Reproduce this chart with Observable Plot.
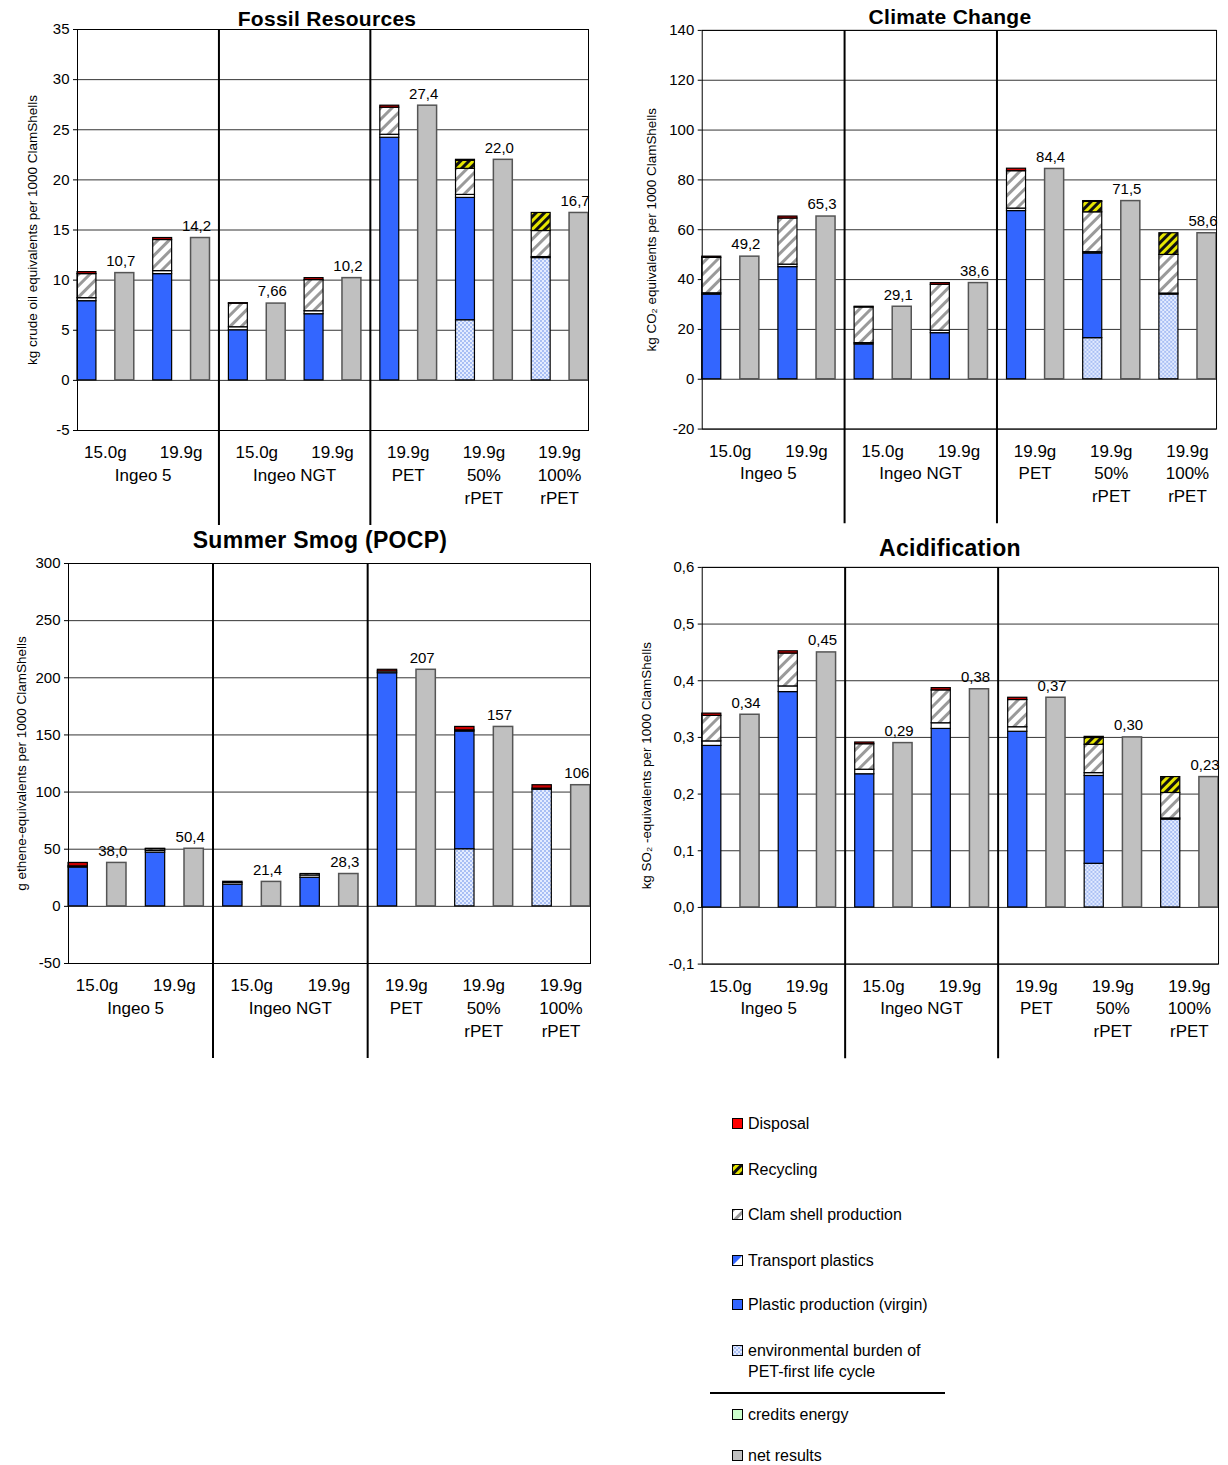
<!DOCTYPE html>
<html><head><meta charset="utf-8">
<script src="https://cdn.jsdelivr.net/npm/d3@7"></script>
<script src="https://cdn.jsdelivr.net/npm/@observablehq/plot@0.6"></script>
<style>
body{margin:0;background:#fff;font-family:"Liberation Sans",Arial,sans-serif;}
#wrap{position:relative;width:1228px;height:1465px;}
.panel{position:absolute;}
.title{position:absolute;font-weight:bold;font-size:21px;transform:translateX(-50%);white-space:nowrap;letter-spacing:0.3px}
.leg{position:absolute;left:732px;font-size:16px;line-height:21px;}
.leg svg{position:absolute;left:0;top:5px}
.leg span{position:absolute;left:16px;top:0;white-space:nowrap}
</style></head><body>
<svg width="0" height="0" style="position:absolute">
<defs>
<pattern id="p-burden" width="4" height="4" patternUnits="userSpaceOnUse"><rect width="4" height="4" fill="#e4ecff"/><circle cx="1" cy="1" r="0.8" fill="#5f86e6"/><circle cx="3" cy="3" r="0.8" fill="#5f86e6"/></pattern>
<pattern id="p-clam" width="8" height="8" patternUnits="userSpaceOnUse" patternTransform="rotate(45)"><rect width="8" height="8" fill="#fff"/><rect width="3" height="8" fill="#9a9a9a"/></pattern>
<pattern id="p-recyc" width="6" height="6" patternUnits="userSpaceOnUse" patternTransform="rotate(45)"><rect width="6" height="6" fill="#e6e600"/><rect width="3" height="6" fill="#111"/></pattern>
</defs></svg>
<div id="wrap"></div>
<script>
const segNames = ["burden","plastic","transport","clam","recycling","disposal"];
const segFill = {burden:"url(#p-burden)",plastic:"#3366ff",transport:"#ffffff",clam:"url(#p-clam)",recycling:"url(#p-recyc)",disposal:"#cc0000"};
const productLabels = ["15.0g","19.9g","15.0g","19.9g","19.9g\nPET","19.9g\n50%\nrPET","19.9g\n100%\nrPET"];
const groupLabels = [{name:"Ingeo 5",a:0,b:1},{name:"Ingeo NGT",a:2,b:3}];

// per panel: segment values per product [burden, plastic, transport, clam, recycling, disposal]
const fossilSegs = [[0,7.9,0.3,2.4,0,0.2],[0,10.6,0.3,3.1,0,0.2],[0,5.0,0.3,2.35,0,0.05],[0,6.6,0.3,3.1,0,0.2],[0,24.2,0.3,2.7,0,0.2],[6.0,12.2,0.3,2.6,0.8,0.1],[12.2,0,0.1,2.6,1.8,0]];
const fossilNet = [10.7,14.2,7.66,10.2,27.4,22.0,16.7];
const fossilLbl = ["10,7","14,2","7,66","10,2","27,4","22,0","16,7"];

const climateSegs = [[0,34,0.5,14.2,0,0.5],[0,45,1,18.5,0,0.8],[0,14,0.5,14.3,0,0.3],[0,18.5,1,18.4,0,0.7],[0,67.5,1,15,0,1],[16.5,34,0.5,16,4.2,0.3],[34,0,0.4,15.5,8.7,0]];
const climateNet = [49.2,65.3,29.1,38.6,84.4,71.5,58.6];
const climateLbl = ["49,2","65,3","29,1","38,6","84,4","71,5","58,6"];

const smogSegs = [[0,34,1,0,0,3],[0,47,1.5,1.5,0,0.4],[0,19,1.5,1,0,0],[0,25,2,1.3,0,0],[0,204,1.5,0,0,1.5],[50,103,1,0,0,3],[102,0,1,0,0,3]];
const smogNet = [38.0,50.4,21.4,28.3,207,157,106];
const smogLbl = ["38,0","50,4","21,4","28,3","207","157","106"];

const acidSegs = [[0,0.285,0.008,0.045,0,0.004],[0,0.38,0.01,0.058,0,0.004],[0,0.235,0.008,0.045,0,0.003],[0,0.315,0.01,0.058,0,0.004],[0,0.31,0.008,0.048,0,0.004],[0.077,0.155,0.005,0.05,0.012,0.002],[0.155,0,0.002,0.045,0.028,0]];
const acidNet = [0.34,0.45,0.29,0.385,0.37,0.30,0.23];
const acidLbl = ["0,34","0,45","0,29","0,38","0,37","0,30","0,23"];

const cats = [];
productLabels.forEach((_,i)=>{cats.push("s"+i);cats.push("n"+i);});

const wrap = document.getElementById("wrap");
function panel(o){
  const rows=[];
  o.segs.forEach((arr,i)=>arr.forEach((v,j)=>rows.push({cat:"s"+i,seg:segNames[j],value:v})));
  const nets=o.net.map((v,i)=>({cat:"n"+i,value:v,label:o.lbl[i]}));
  const fmt = o.comma ? (d=>d3.format(".1f")(d).replace(".",",").replace("−","-")) : (d=>String(d).replace("−","-"));
  const labelsMark = (index, scales, values, dim) => {
    const x=scales.x, step=x("n0")-x("s0"), bw=step/2;
    const g=d3.create("svg:g").attr("font-size",17).attr("font-family","Liberation Sans, Arial").attr("fill","#000");
    const bottom=dim.height-dim.marginBottom;
    productLabels.forEach((t,i)=>{
      const cx=x("s"+i)+(step+bw)/2;
      const lines=t.split("\n");
      const tx=g.append("text").attr("text-anchor","middle");
      lines.forEach((l,k)=>tx.append("tspan").attr("x",cx).attr("y",bottom+28+k*23).attr("text-anchor","middle").text(l));
    });
    groupLabels.forEach(gl=>{
      const cx=(x("s"+gl.a)+x("n"+gl.b)+bw)/2;
      g.append("text").attr("text-anchor","middle").attr("x",cx).attr("y",bottom+51).text(gl.name);
    });
    [[1,2],[3,4]].forEach(([a,b])=>{
      const sx=(x("n"+a)+bw+x("s"+b))/2;
      g.append("line").attr("x1",sx).attr("x2",sx).attr("y1",dim.marginTop).attr("y2",bottom+95).attr("stroke","#000").attr("stroke-width",2);
    });
    return g.node();
  };
  const p = Plot.plot({
    width:o.width,height:o.height,marginLeft:o.ml,marginRight:o.mr,marginTop:o.mt,marginBottom:100,
    style:{fontFamily:"Liberation Sans, Arial",fontSize:"14px",color:"#000",overflow:"visible"},
    x:{domain:cats,paddingInner:0.5,paddingOuter:0,align:0.5,round:false,axis:null},
    y:{domain:o.domain},
    color:{type:"identity"},
    marks:[
      Plot.ruleY(o.ticks,{stroke:"#000",strokeWidth:0.8}),
      Plot.axisY({ticks:o.ticks,tickFormat:fmt,tickSize:4,fontSize:15,tickPadding:4,label:null}),
      Plot.axisY({ticks:[],label:o.ylabel,labelAnchor:"center",labelOffset:o.lo,labelArrow:"none",fontSize:13.5}),
      Plot.barY(rows,{x:"cat",y:"value",fill:d=>segFill[d.seg],stroke:"#000",strokeWidth:1.2,inset:0}),
      Plot.barY(nets,{x:"cat",y:"value",fill:"#c0c0c0",stroke:"#555",strokeWidth:1.5,inset:0}),
      Plot.text(nets,{x:"cat",y:"value",text:"label",dy:-12,dx:-4,fontSize:15}),
      Plot.frame({stroke:"#000",strokeWidth:1}),
      labelsMark
    ]
  });
  const d=document.createElement("div");d.className="panel";d.style.left=o.left+"px";d.style.top=o.top+"px";
  d.appendChild(p);wrap.appendChild(d);
  const t=document.createElement("div");t.className="title";t.textContent=o.title;
  t.style.left=o.tx+"px";t.style.top=o.ty+"px";if(o.tfs)t.style.fontSize=o.tfs+"px";wrap.appendChild(t);
}
panel({segs:fossilSegs,net:fossilNet,lbl:fossilLbl,left:0,top:0,width:600,height:530,ml:77,mr:12,mt:29,domain:[-5,35],ticks:d3.range(-5,36,5),ylabel:"kg crude oil equivalents per 1000 ClamShells",lo:50,title:"Fossil Resources",tx:327,ty:7});
panel({segs:climateSegs,net:climateNet,lbl:climateLbl,left:614,top:0,width:616,height:530,ml:88,mr:12,mt:30,domain:[-20,140],ticks:d3.range(-20,141,20),ylabel:"kg CO₂ equivalents per 1000 ClamShells",lo:56,title:"Climate Change",tx:950,ty:5});
panel({segs:smogSegs,net:smogNet,lbl:smogLbl,left:0,top:534,width:600,height:529,ml:68,mr:10,mt:29,domain:[-50,300],ticks:d3.range(-50,301,50),ylabel:"g ethene-equivalents per 1000 ClamShells",lo:52,title:"Summer Smog (POCP)",tx:320,ty:527,tfs:23});
panel({segs:acidSegs,net:acidNet,lbl:acidLbl,left:614,top:538,width:616,height:527,ml:88,mr:10,mt:29,domain:[-0.1,0.6],ticks:[-0.1,0,0.1,0.2,0.3,0.4,0.5,0.6],comma:true,ylabel:"kg SO₂ -equivalents per 1000 ClamShells",lo:61,title:"Acidification",tx:950,ty:535,tfs:23});

const legend=[
 {t:"Disposal",y:1113,sw:'<rect x="0.5" y="0.5" width="10" height="10" fill="#ff0000" stroke="#000"/>'},
 {t:"Recycling",y:1159,sw:'<rect x="0.5" y="0.5" width="10" height="10" fill="url(#p-recyc)" stroke="#000"/>'},
 {t:"Clam shell production",y:1204,sw:'<rect x="0.5" y="0.5" width="10" height="10" fill="url(#p-clam)" stroke="#000"/>'},
 {t:"Transport plastics",y:1250,sw:'<rect x="0.5" y="0.5" width="10" height="10" fill="#fff" stroke="#000"/><path d="M1 1 L10 1 L1 10Z" fill="#3366ff"/>'},
 {t:"Plastic production (virgin)",y:1294,sw:'<rect x="0.5" y="0.5" width="10" height="10" fill="#3366ff" stroke="#000"/>'},
 {t:"environmental burden of<br>PET-first life cycle",y:1340,sw:'<rect x="0.5" y="0.5" width="10" height="10" fill="url(#p-burden)" stroke="#000"/>'},
 {t:"credits energy",y:1404,sw:'<rect x="0.5" y="0.5" width="10" height="10" fill="#ccffcc" stroke="#000"/>'},
 {t:"net results",y:1445,sw:'<rect x="0.5" y="0.5" width="10" height="10" fill="#c0c0c0" stroke="#000"/>'}
];
legend.forEach(l=>{const d=document.createElement("div");d.className="leg";d.style.top=l.y+"px";
 d.innerHTML='<svg width="12" height="12">'+l.sw+'</svg><span>'+l.t+'</span>';wrap.appendChild(d);});
const hr=document.createElement("div");hr.style.cssText="position:absolute;left:710px;top:1392px;width:235px;height:2px;background:#000";wrap.appendChild(hr);
</script></body></html>
